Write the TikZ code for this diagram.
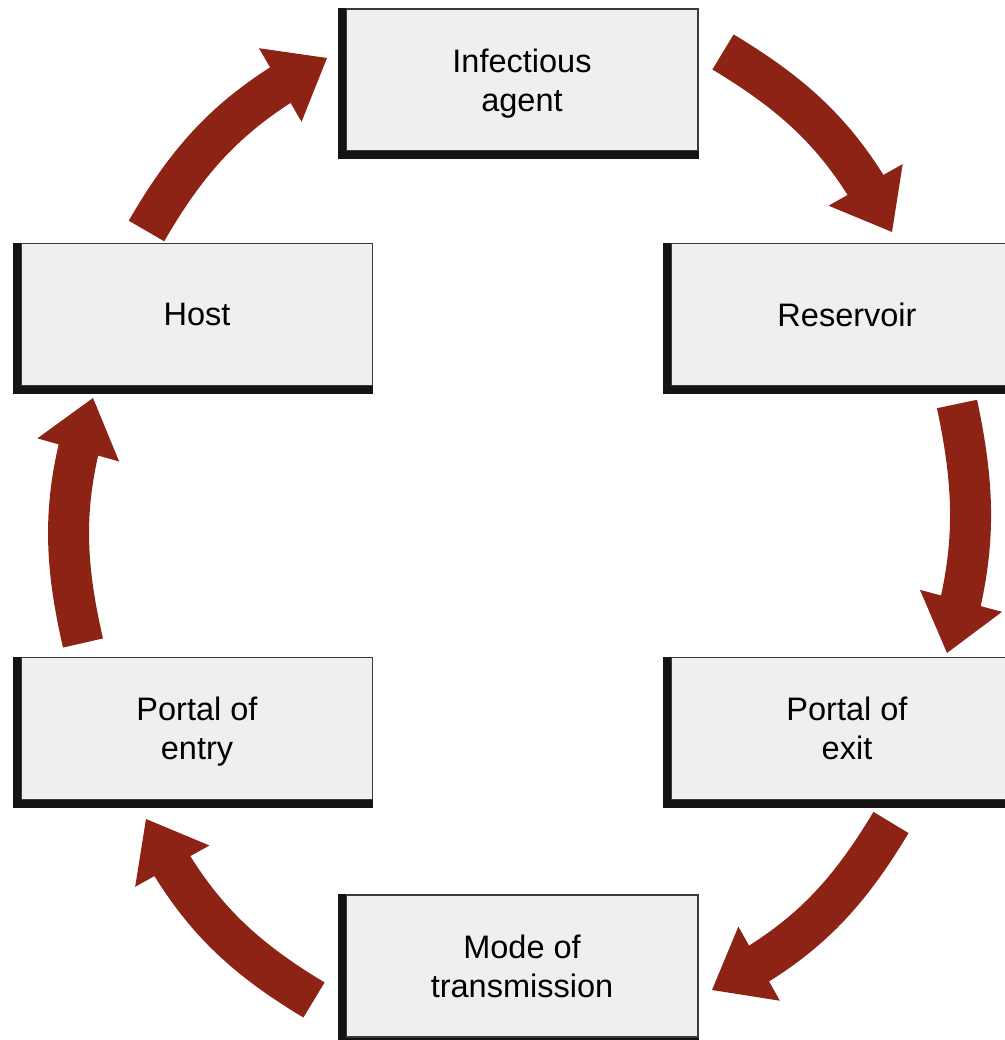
\documentclass[tikz,border=0pt]{standalone}
\usepackage{fontspec}
\setmainfont{Liberation Sans}
\usetikzlibrary{arrows.meta, bending}
\definecolor{chainBorder}{HTML}{3A3A3A}
\definecolor{chainShadow}{HTML}{141414}
\definecolor{stageFill}{HTML}{EFEFEF}
\definecolor{chainRed}{HTML}{8C2314}

\begin{document}
\begin{tikzpicture}[
        x=0.02cm, y=0.02cm,
        font=\fontsize{18.5}{22}\selectfont,
        stagebox/.style={
            draw=chainBorder,
            line width=0.6pt,
            fill=stageFill,
            minimum width=7.04cm,
            minimum height=2.84cm,
            inner sep=0pt,
            text depth=0pt,
            align=center
        },
        shadowedge/.style={
            draw=chainShadow,
            line width=0.16cm
        },
        flow/.style={
            -{Triangle[length=1.08cm, width=1.7cm, line width=0pt, flex]},
            line width=0.82cm,
            draw=chainRed
        }
    ]
    \useasboundingbox (0,0) rectangle (1004,1040);

    \node[stagebox] (agent) at (522,960) {Infectious\\agent};
    \node[stagebox] (reservoir) at (847,725.5) {Reservoir};
    \node[stagebox] (exit) at (847,311.5) {Portal of\\exit};
    \node[stagebox] (mode) at (522,74) {Mode of\\transmission};
    \node[stagebox] (entry) at (197,311.5) {Portal of\\entry};
    \node[stagebox] (host) at (197,725.5) {Host};

    % heavy left and bottom edges
    \foreach \n in {agent,reservoir,exit,mode,entry,host}
        \draw[shadowedge] ([xshift=-0.08cm]\n.north west) |- ([yshift=-0.08cm]\n.south east);

    % ends of the curved arrows
    \coordinate (agentOut) at (723,988);
    \coordinate (reservoirIn) at (892,808);
    \coordinate (reservoirOut) at (957,636);
    \coordinate (exitIn) at (947,387);
    \coordinate (exitOut) at (891,217.5);
    \coordinate (modeIn) at (712,50);
    \coordinate (modeOut) at (314,40);
    \coordinate (entryIn) at (146,221);
    \coordinate (entryOut) at (83,397);
    \coordinate (hostIn) at (93,642);
    \coordinate (hostOut) at (146.5,809);
    \coordinate (agentIn) at (327,982);

    \draw[flow] (agentOut) to[out=-31, in=117] (reservoirIn);
    \draw[flow] (reservoirOut) to[out=-78, in=73] (exitIn);
    \draw[flow] (exitOut) to[out=-121, in=27] (modeIn);
    \draw[flow] (modeOut) to[out=149, in=-63] (entryIn);
    \draw[flow] (entryOut) to[out=103, in=252] (hostIn);
    \draw[flow] (hostOut) to[out=60, in=208] (agentIn);
\end{tikzpicture}
\end{document}
